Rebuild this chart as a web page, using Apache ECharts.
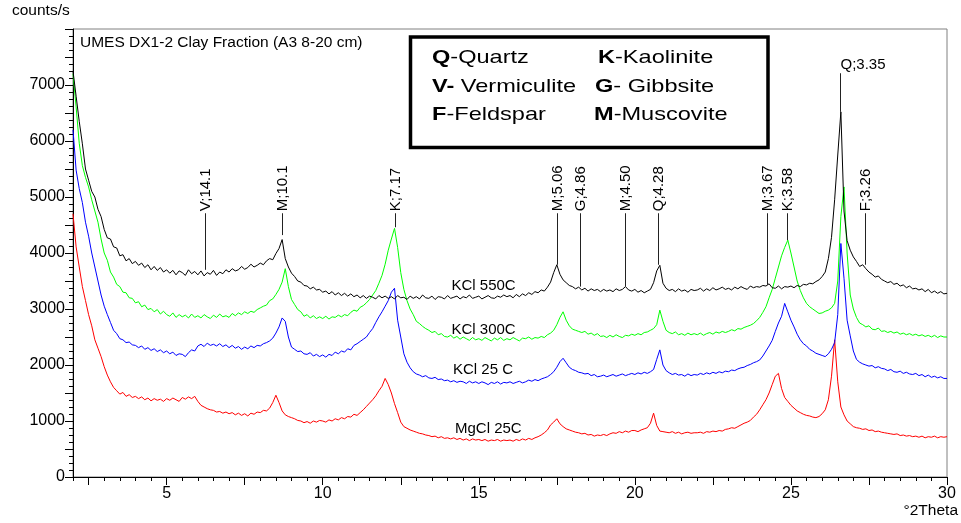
<!DOCTYPE html>
<html>
<head>
<meta charset="utf-8">
<title>UMES DX1-2 Clay Fraction</title>
<script src="https://cdn.jsdelivr.net/npm/echarts@6/dist/echarts.min.js"></script>
<style>
  html, body { margin: 0; padding: 0; background: #fff; }
  #chart { width: 961px; height: 523px; }
</style>
</head>
<body>
<div id="chart"></div>
<script>
// scan setup: start angle and step size (°2Theta)
var thetaStart = 2.0;
var thetaStep = 0.1;

// counts/s, one value per step, 2.0 .. 30.0
var kcl550c = [
  7250, 6800, 6350, 5950, 5500, 5300, 5100, 5000, 4780, 4650,
  4420, 4270, 4250, 4110, 4090, 3950, 3970, 3860, 3900, 3810,
  3850, 3780, 3820, 3740, 3790, 3700, 3760, 3690, 3740, 3660,
  3700, 3640, 3690, 3610, 3680, 3650, 3600, 3700, 3630, 3670,
  3610, 3680, 3590, 3650, 3620, 3690, 3600, 3660, 3630, 3700,
  3660, 3720, 3680, 3700, 3760, 3710, 3740, 3800, 3750, 3780,
  3820, 3790, 3860, 3900, 3880, 3990, 4080, 4240, 3900, 3750,
  3640, 3580, 3500, 3480, 3420, 3410, 3360, 3390, 3340, 3350,
  3300, 3320, 3270, 3310, 3250, 3290, 3240, 3280, 3230, 3270,
  3220, 3250, 3200, 3240, 3190, 3230, 3210, 3180, 3240, 3200,
  3230, 3190, 3220, 3180, 3240, 3200, 3210, 3170, 3230, 3190,
  3220, 3180, 3250, 3200, 3190, 3230, 3170, 3220, 3210, 3180,
  3240, 3190, 3210, 3230, 3180, 3220, 3200, 3250, 3190, 3210,
  3230, 3180, 3210, 3240, 3200, 3190, 3230, 3210, 3250, 3220,
  3240, 3200, 3260, 3220, 3270, 3240, 3290, 3260, 3310, 3290,
  3340, 3320, 3390, 3480, 3650, 3790, 3620, 3520, 3470, 3420,
  3400, 3360, 3390, 3340, 3370, 3320, 3360, 3330, 3350, 3310,
  3350, 3320, 3340, 3310, 3360, 3330, 3350, 3400, 3340, 3320,
  3350, 3300, 3330, 3290, 3320, 3350, 3470, 3680, 3780, 3460,
  3370, 3330, 3350, 3310, 3360, 3320, 3340, 3300, 3350, 3330,
  3340, 3370, 3320, 3360, 3330, 3380, 3340, 3360, 3390, 3350,
  3370, 3340, 3390, 3360, 3400, 3370, 3350, 3410, 3380, 3400,
  3390, 3420, 3410, 3450, 3380, 3370, 3410, 3360, 3400, 3390,
  3410, 3380, 3420, 3400, 3440, 3430, 3460, 3450, 3490, 3520,
  3580, 3660, 3900, 4280, 4950, 5750, 6520, 4750, 4220, 4050,
  3930, 3850, 3760, 3790, 3720, 3660, 3620, 3570, 3590, 3530,
  3500, 3470, 3490, 3440, 3460, 3410, 3430, 3380, 3410, 3360,
  3370, 3340, 3360, 3310, 3350, 3290, 3320, 3280, 3310, 3270,
  3280
];

var kcl300c = [
  7200, 6610, 5960, 5560, 5350, 5180, 4950, 4750, 4550, 4250,
  4000, 3870, 3660, 3570, 3440, 3400, 3300, 3290, 3200, 3190,
  3110, 3130, 3040, 3070, 2990, 3010, 2950, 2990, 2910, 2960,
  2900, 2870, 2930, 2850, 2900, 2860, 2890, 2840, 2910, 2850,
  2880, 2840, 2900, 2860, 2830, 2890, 2850, 2910, 2860, 2880,
  2850, 2920, 2880, 2930, 2900, 2950, 2920, 2960, 2940, 2990,
  3020, 3050, 3070, 3150, 3180, 3260, 3350, 3480, 3720, 3400,
  3170, 3080, 2990, 2950, 2870, 2900, 2840, 2880, 2830, 2860,
  2830, 2870, 2820, 2860, 2850, 2890, 2860, 2900, 2880, 2940,
  2980, 2960, 3030, 3060, 3110, 3170, 3250, 3330, 3460, 3600,
  3800, 4050, 4250, 4440, 4100, 3650, 3350, 3150, 3000, 2900,
  2780, 2740, 2690, 2650, 2620, 2580, 2600, 2540, 2560, 2510,
  2500, 2530, 2480, 2510, 2460, 2500, 2470, 2440, 2490, 2450,
  2470, 2440, 2490, 2460, 2430, 2480, 2450, 2490, 2440, 2470,
  2450, 2490, 2460, 2430, 2480, 2470, 2500, 2460, 2490, 2480,
  2510, 2490, 2540, 2570, 2620, 2720, 2850, 2950, 2800, 2700,
  2640, 2620, 2600, 2580, 2600, 2550, 2570, 2530, 2560, 2510,
  2520, 2490, 2530, 2500, 2540, 2510, 2490, 2530, 2520, 2550,
  2530, 2560, 2540, 2580, 2590, 2620, 2650, 2720, 2980, 2780,
  2620, 2580, 2560, 2590, 2540, 2560, 2530, 2570, 2540, 2560,
  2540, 2570, 2530, 2560, 2580, 2550, 2590, 2570, 2600, 2580,
  2600, 2630, 2610, 2650, 2640, 2670, 2690, 2710, 2740, 2790,
  2850, 2940, 3040, 3200, 3350, 3550, 3750, 3950, 4100, 4230,
  4000, 3750, 3500, 3330, 3200, 3100, 3040, 3000, 2960, 2920,
  2930, 2960, 2980, 3020, 3100, 3500, 4650, 5180, 4000, 3250,
  3000, 2850, 2750, 2720, 2680, 2700, 2640, 2630, 2660, 2600,
  2610, 2580, 2600, 2570, 2590, 2550, 2570, 2540, 2560, 2530,
  2550, 2520, 2540, 2510, 2530, 2500, 2530, 2490, 2520, 2500,
  2500
];

var kcl25c = [
  6200, 5480, 5150, 4900, 4550, 4300, 4000, 3750, 3500, 3250,
  3050, 2900, 2760, 2620, 2560, 2470, 2450, 2400, 2410, 2360,
  2350, 2310, 2340, 2280, 2310, 2260, 2290, 2240, 2270, 2220,
  2250, 2200, 2230, 2170, 2200, 2190, 2150, 2220, 2270, 2250,
  2340, 2370, 2330, 2390, 2350, 2370, 2340, 2380, 2330, 2360,
  2310, 2350, 2300, 2330, 2280, 2320, 2290, 2340, 2310, 2350,
  2340, 2380, 2400, 2430, 2480, 2570, 2680, 2840, 2780, 2500,
  2320, 2280, 2240, 2250, 2200, 2190, 2220, 2160, 2190, 2150,
  2180, 2140, 2190, 2170, 2230, 2200, 2250, 2230, 2290, 2270,
  2350, 2380, 2420, 2460, 2500, 2580, 2650, 2760, 2860, 2950,
  3050, 3150, 3300, 3370, 2800, 2500, 2200, 2050, 1950, 1880,
  1840, 1820, 1790, 1810, 1770, 1760, 1780, 1740, 1750, 1720,
  1730, 1700, 1720, 1690, 1710, 1700, 1670, 1710, 1680, 1700,
  1670, 1700, 1680, 1650, 1690, 1670, 1700, 1660, 1690, 1680,
  1700, 1670, 1690, 1710, 1680, 1700, 1730, 1710, 1740, 1720,
  1750, 1770, 1790, 1830, 1880, 1960, 2060, 2120, 2040, 1960,
  1920, 1900, 1870, 1860, 1840, 1850, 1810, 1830, 1790, 1800,
  1820, 1790, 1810, 1830, 1800, 1820, 1840, 1810, 1830, 1850,
  1830, 1860, 1840, 1870, 1850, 1880, 1920, 2100, 2270, 2000,
  1900, 1860, 1830, 1850, 1820, 1830, 1800, 1840, 1810, 1830,
  1820, 1850, 1830, 1860, 1840, 1870, 1850, 1880, 1860, 1890,
  1880, 1910, 1900, 1930, 1950, 1960, 1990, 2010, 2040, 2060,
  2090, 2160, 2250, 2340, 2440, 2600, 2750, 2870, 3100, 2950,
  2800, 2680, 2550, 2450, 2380, 2340, 2280, 2250, 2210, 2190,
  2170, 2150, 2200, 2280, 2400, 2900, 4170, 3550, 2800, 2520,
  2250, 2100, 2050, 2020, 2000, 1980, 1990, 1950, 1970, 1940,
  1930, 1900, 1920, 1880, 1870, 1890, 1850, 1870, 1840, 1830,
  1850, 1810, 1830, 1790, 1820, 1780, 1800, 1770, 1790, 1760,
  1760
];

var mgcl25c = [
  4700, 4110, 3750, 3400, 3150, 2900, 2700, 2450, 2300, 2150,
  1970, 1820, 1700, 1600, 1540, 1480, 1510, 1440, 1470, 1420,
  1440, 1400, 1430, 1380, 1410, 1360, 1400, 1370, 1390, 1350,
  1400, 1370, 1410, 1380, 1350, 1420, 1390, 1430, 1400, 1440,
  1350, 1280, 1250, 1220, 1200, 1190, 1160, 1170, 1140, 1160,
  1130, 1150, 1110, 1140, 1100, 1130, 1090, 1140, 1120, 1160,
  1150, 1190, 1180, 1230, 1330, 1460, 1330, 1180, 1110, 1080,
  1060, 1040, 1010, 1000, 970, 990, 960, 1000, 980, 1010,
  1000, 980, 1020, 1000, 1040, 1020, 1060, 1040, 1080, 1070,
  1120, 1100, 1150, 1200, 1260, 1320, 1380, 1450, 1540, 1620,
  1760, 1650, 1500, 1310, 1150, 980, 900, 870, 840, 820,
  800, 780, 770, 750, 740, 720, 730, 700, 720, 690,
  700, 680, 700, 670, 690, 660, 680, 650, 680, 660,
  670, 650, 670, 640, 660, 650, 670, 640, 660, 650,
  660, 640, 670, 650, 680, 660, 690, 670, 700, 720,
  750, 790, 840, 930, 980, 1040, 950, 900, 860, 840,
  820, 800, 790, 770, 780, 750, 760, 730, 750, 740,
  760, 740, 770, 790, 780, 810, 790, 820, 800, 830,
  830, 810, 840, 860, 880, 960, 1140, 920, 820, 810,
  800, 790, 810, 780, 800, 770, 790, 800, 780, 790,
  790, 800, 780, 810, 800, 820, 810, 830, 820, 850,
  860, 880, 870, 900, 930, 960, 980, 1010, 1070, 1120,
  1200, 1290, 1380, 1500, 1650, 1800, 1850, 1580, 1420, 1350,
  1280, 1230, 1180, 1150, 1120, 1100, 1090, 1070, 1060, 1080,
  1130, 1200, 1380, 1800, 2450, 1700, 1250, 1110, 1000, 950,
  900, 880, 870, 850, 860, 830, 840, 810, 820, 800,
  790, 780, 770, 760, 770, 740, 750, 730, 740, 720,
  730, 710, 730, 700, 720, 710, 730, 700, 720, 710,
  720
];

// peak markers: position (°2Theta), where the stick ends and starts (counts/s), text
var peakPos = [6.22, 8.70, 12.33, 17.50, 18.24, 19.70, 20.75, 24.24, 24.88, 26.58, 27.36];
var peakEnd = [3700, 4320, 4460, 3790, 3400, 3400, 3790, 3430, 4230, 6520, 3790];
var peakTop = [4710, 4710, 4710, 4710, 4710, 4710, 4710, 4710, 4710, 7210, 4710];
var peakText = ['V;14.1', 'M;10.1', 'K;7.17', 'M;5.06', 'G;4.86', 'M;4.50', 'Q;4.28',
  'M;3.67', 'K;3.58', 'Q;3.35', 'F;3.26'];
var peakUpright = [false, false, false, false, false, false, false, false, false, true, false];

var xLabelValues = [5, 10, 15, 20, 25, 30];
var xMajorTicks = [2.5, 5, 7.5, 10, 12.5, 15, 17.5, 20, 22.5, 25, 27.5, 30];
var yLabelValues = [0, 1000, 2000, 3000, 4000, 5000, 6000, 7000];

var FONT = '"Liberation Sans", Arial, sans-serif';

function toPairs(values) {
  var out = [];
  for (var i = 0; i < values.length; i++) {
    out.push([+(thetaStart + i * thetaStep).toFixed(1), values[i]]);
  }
  return out;
}

function lineSeries(name, values, color) {
  return {
    name: name,
    type: 'line',
    xAxisIndex: 0,
    data: toPairs(values),
    showSymbol: false,
    symbol: 'none',
    lineStyle: { color: color, width: 1 },
    silent: true,
    z: 2
  };
}

function renderPeak(params, api) {
  var i = params.dataIndex;
  var end = api.coord([api.value(0), api.value(1)]);
  var top = api.coord([api.value(0), api.value(2)]);
  var x = Math.round(end[0]) + 0.5;
  var children = [{
    type: 'line',
    shape: { x1: x, y1: top[1], x2: x, y2: end[1] },
    style: { stroke: '#222', lineWidth: 1 }
  }];
  if (peakUpright[i]) {
    children.push({
      type: 'text',
      x: x,
      y: top[1] - 1,
      style: { text: peakText[i], fontSize: 15, fontFamily: FONT, fill: '#000',
        align: 'left', verticalAlign: 'bottom' }
    });
  } else {
    children.push({
      type: 'text',
      x: x,
      y: top[1] - 2,
      rotation: Math.PI / 2,
      style: { text: peakText[i], fontSize: 15, fontFamily: FONT, fill: '#000',
        align: 'left', verticalAlign: 'middle' }
    });
  }
  return { type: 'group', children: children };
}

function plainText(str, x, y, size, align, scaleX) {
  return {
    type: 'text',
    x: x,
    y: y,
    scaleX: scaleX || 1,
    style: { text: str, fontSize: size, fontFamily: FONT, fill: '#000',
      align: align || 'left', verticalAlign: 'middle' },
    z: 10
  };
}

function keyText(str, x, y) {
  return {
    type: 'text',
    x: x,
    y: y,
    scaleX: 1.24,
    style: {
      text: str,
      fontSize: 19,
      fontFamily: FONT,
      fill: '#000',
      align: 'left',
      verticalAlign: 'middle',
      rich: {
        b: { fontSize: 19, fontFamily: FONT, fontWeight: 'bold', fill: '#000' },
        r: { fontSize: 19, fontFamily: FONT, fill: '#000' }
      }
    },
    z: 11
  };
}

var chart = echarts.init(document.getElementById('chart'), null, { renderer: 'canvas' });

var peakData = [];
for (var p = 0; p < peakPos.length; p++) {
  peakData.push([peakPos[p], peakEnd[p], peakTop[p]]);
}

chart.setOption({
  animation: false,
  backgroundColor: '#fff',
  grid: {
    left: 73,
    right: 14,
    top: 29,
    bottom: 46,
    show: true,
    borderColor: '#808080',
    borderWidth: 1
  },
  xAxis: [
    {
      type: 'value',
      min: 2,
      max: 30,
      interval: 0.5,
      axisLine: { lineStyle: { color: '#000', width: 1 } },
      axisTick: { interval: 0, length: 4, lineStyle: { color: '#000' } },
      axisLabel: {
        interval: 0,
        margin: 9,
        fontSize: 16,
        fontFamily: FONT,
        color: '#000',
        formatter: function (v) {
          for (var k = 0; k < xLabelValues.length; k++) {
            if (Math.abs(v - xLabelValues[k]) < 1e-6) return String(xLabelValues[k]);
          }
          return '';
        }
      },
      splitLine: { show: false }
    },
    {
      // longer ticks every 2.5 degrees
      type: 'value',
      min: 2,
      max: 30,
      position: 'bottom',
      offset: 0,
      axisLine: { show: false },
      axisTick: { show: true, length: 8, customValues: xMajorTicks, lineStyle: { color: '#000' } },
      axisLabel: { show: false },
      splitLine: { show: false }
    }
  ],
  yAxis: {
    type: 'value',
    min: 0,
    max: 8000,
    interval: 500,
    axisLine: { show: true, lineStyle: { color: '#000', width: 1 } },
    axisTick: { show: true, interval: 0, length: 8, lineStyle: { color: '#000' } },
    minorTick: { show: true, splitNumber: 4, length: 4, lineStyle: { color: '#000' } },
    axisLabel: {
      interval: 0,
      margin: 8,
      fontSize: 16,
      fontFamily: FONT,
      color: '#000',
      formatter: function (v) {
        return yLabelValues.indexOf(v) >= 0 ? String(v) : '';
      }
    },
    splitLine: { show: false }
  },
  series: [
    lineSeries('MgCl 25C', mgcl25c, '#ff0000'),
    lineSeries('KCl 25 C', kcl25c, '#0000ff'),
    lineSeries('KCl 300C', kcl300c, '#00ff00'),
    lineSeries('KCl 550C', kcl550c, '#000000'),
    {
      name: 'peaks',
      type: 'custom',
      xAxisIndex: 0,
      data: peakData,
      renderItem: renderPeak,
      silent: true,
      clip: false,
      z: 5
    }
  ],
  graphic: [
    plainText('counts/s', 12, 11, 15.5),
    plainText('UMES DX1-2 Clay Fraction (A3 8-20 cm)', 80, 42.5, 15.5),
    plainText('\u00b02Theta', 958, 511, 15.5, 'right'),
    plainText('KCl 550C', 451.5, 285.5, 15),
    plainText('KCl 300C', 451.5, 330, 15),
    plainText('KCl 25 C', 453, 370, 15),
    plainText('MgCl 25C', 455, 428.5, 15),
    {
      type: 'rect',
      shape: { x: 410.5, y: 37, width: 357.5, height: 110.5 },
      style: { fill: '#fff', stroke: '#000', lineWidth: 3.5 },
      z: 10
    },
    keyText('{b|Q}{r|-Quartz}', 432, 58),
    keyText('{b|V-}{r| Vermiculite}', 432, 87),
    keyText('{b|F}{r|-Feldspar}', 432, 114.5),
    keyText('{b|K}{r|-Kaolinite}', 598, 58),
    keyText('{b|G}{r|- Gibbsite}', 595, 87),
    keyText('{b|M}{r|-Muscovite}', 594, 114.5)
  ]
});
</script>
</body>
</html>
